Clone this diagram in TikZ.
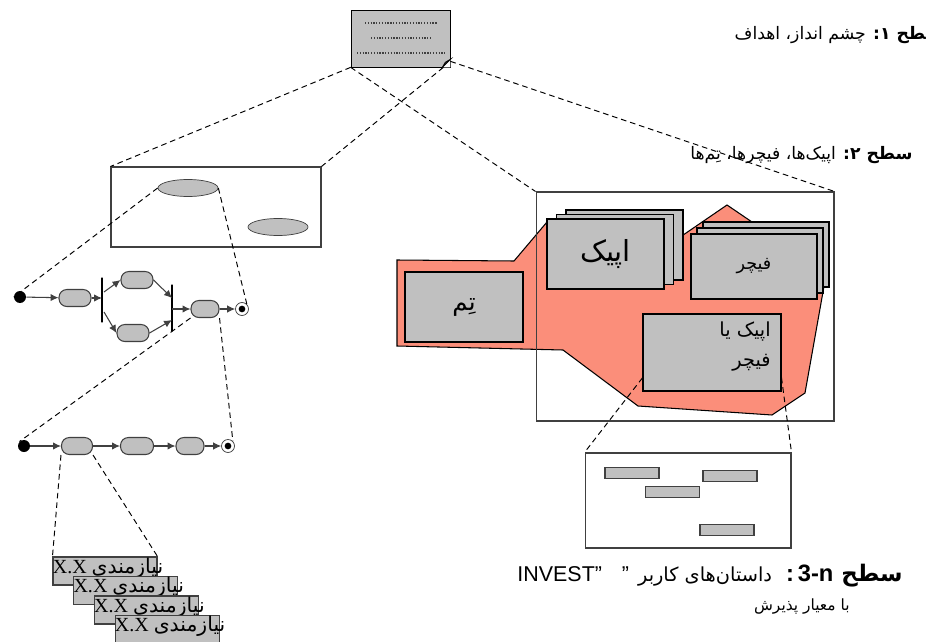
\documentclass[tikz,border=0pt]{standalone}
\usepackage{fontspec}
\setmainfont{Liberation Sans}
\newfontfamily\fa[Script=Arabic]{DejaVu Sans}
\newfontfamily\tim{Liberation Serif}
\TeXXeTstate=1
\usetikzlibrary{shapes.geometric, arrows.meta, positioning, calc}
\definecolor{tinta}{HTML}{000000}
\definecolor{borde}{HTML}{404040}
\definecolor{gris}{HTML}{C0C0C0}
\definecolor{salmon}{HTML}{FB8E7A}
\tikzset{
  guia/.style={dash pattern=on 3.2pt off 2.2pt, line width=0.55pt, color=tinta},
  hoja/.style={rectangle, draw=tinta, fill=gris, minimum width=1.98cm, minimum height=1.14cm},
  puntos/.style={dash pattern=on 0.7pt off 0.9pt, line width=0.7pt, color=borde},
  marco/.style={rectangle, draw=borde, line width=0.6pt, fill=white},
  ovalo/.style={ellipse, draw=borde, fill=gris, minimum width=1.2cm, minimum height=0.34cm, inner sep=0pt},
  accion/.style={rectangle, rounded corners=4.5pt, draw=borde, line width=0.6pt, fill=gris,
                 minimum width=0.64cm, minimum height=0.34cm, inner sep=0pt},
  inicio/.style={circle, fill=tinta, minimum size=0.24cm, inner sep=0pt},
  final/.style={circle, draw=borde, fill=white, minimum size=0.26cm, inner sep=0pt,
                path picture={\fill [tinta] (path picture bounding box.center) circle (1.9pt);}},
  barra/.style={rectangle, draw=tinta, line width=0.6pt, minimum width=0pt, inner sep=0pt},
  flecha/.style={->, >={Latex[length=4.5pt,width=4.2pt]}, line width=0.6pt, color=borde},
  tarjeta/.style={rectangle, draw=tinta, line width=0.6pt, fill=gris},
  zona/.style={draw=tinta, line width=0.6pt, fill=salmon},
  barrita/.style={rectangle, draw=borde, line width=0.7pt, fill=gris, minimum width=1.08cm, minimum height=0.2cm},
  req/.style={rectangle, draw=borde, line width=0.6pt, fill=gris, minimum width=2.08cm, minimum height=0.56cm},
  rotulo/.style={inner sep=0pt, font=\fa\fontsize{9.8pt}{12pt}\selectfont}
}

\begin{document}
\begin{tikzpicture}[x=0.02cm, y=-0.02cm]
  \useasboundingbox (0,0) rectangle (926,642);

  % hoja con la vision
  \node (hoja) [hoja] at (400.5,38.5) {};
  \draw [puntos] (365,23) -- (437,23);
  \draw [puntos] (371,38) -- (431,38);
  \draw [puntos] (357,53) -- (445,53);
  \fill [white] (hoja.south east) -- ++(0,-8) -- ++(-1,0) -- ++(-7,8) -- cycle;
  \draw [tinta, fill=gris!60, line width=0.5pt] ($(hoja.south east)+(-8,0)$) -- ($(hoja.south east)+(0,-8)$)
        -- ($(hoja.south east)+(-5,-5)$) -- cycle;

  % nivel 1: diagramas de actividad
  \node (marco1) [marco, minimum width=4.2cm, minimum height=1.6cm] at (216,207) {};
  \node (ov1) [ovalo] at (188,188) {};
  \node (ov2) [ovalo] at (278,227) {};

  \node (ini1) [inicio] at (20,297) {};
  \node (ac1) [accion] at (75,298) {};
  \node (bif1) [barra, minimum height=0.9cm] at (102,300) {};
  \node (ac2) [accion] at (137,280) {};
  \node (ac3) [accion] at (133,333) {};
  \node (jun1) [barra, minimum height=0.94cm] at (172,308) {};
  \node (ac4) [accion, minimum width=0.56cm] at (205,309) {};
  \node (fin1) [final] at (242,309) {};
  \draw [flecha] (ini1) -- (ac1);
  \draw [flecha] (ac1) -- (ac1 -| bif1);
  \draw [flecha] ($(bif1)+(2,-8)$) -- (ac2.west);
  \draw [flecha] ($(bif1)+(2,12)$) -- (ac3.west);
  \draw [flecha] (ac2.east) -- ($(jun1)+(0,-10)$);
  \draw [flecha] (ac3.east) -- ($(jun1)+(0,12)$);
  \draw [flecha] (ac4 -| jun1) -- (ac4);
  \draw [flecha] (ac4) -- (fin1);

  \node (ini2) [inicio] at (24,446) {};
  \node (bc1) [accion, minimum width=0.62cm] at (77,446) {};
  \node (bc2) [accion, minimum width=0.66cm] at (137,446) {};
  \node (bc3) [accion, minimum width=0.56cm] at (190,446) {};
  \node (fin2) [final] at (228,446) {};
  \draw [flecha] (ini2) -- (bc1);
  \draw [flecha] (bc1) -- (bc2);
  \draw [flecha] (bc2) -- (bc3);
  \draw [flecha] (bc3) -- (fin2);

  % requerimientos apilados
  \foreach \i in {0,...,3} {
    \node (req\i) [req] at (105+20.7*\i, 571+19.5*\i) {};
    \node (reqt\i) [anchor=base west, inner sep=0pt] at ($(req\i.west)+(0,2)$)
      {{\tim\fontsize{11.4pt}{12pt}\selectfont X.X} {\fa\fontsize{11.6pt}{12pt}\selectfont نیازمندی}};
  }

  % nivel 2: temas, epicas y features
  \path [zona] (397,260) -- (514,261) -- (547,222) -- (670,244) -- (727,205) -- (752,222) -- (826,275)
        -- (805,393) -- (772,415) -- (638,406) -- (563,350) -- (397,346) -- cycle;
  \node (nivel2) [marco, fill=none, minimum width=5.96cm, minimum height=4.58cm] at (685,306.5) {};
  \node (tema) [tarjeta, minimum width=2.36cm, minimum height=1.4cm,
                font=\fa\fontsize{14pt}{16pt}\selectfont] at (464,307) {ت^^^^0650م};
  \foreach \i in {2,1} {
    \node (epica\i) [tarjeta, minimum width=2.34cm, minimum height=1.4cm] at (605.5+9.5*\i, 254-4.5*\i) {};
  }
  \node (epica0) [tarjeta, minimum width=2.34cm, minimum height=1.4cm,
                  font=\fa\fontsize{16.5pt}{18pt}\selectfont] at (605.5,254) {اپیک};
  \foreach \i in {2,1} {
    \node (rasgo\i) [tarjeta, minimum width=2.52cm, minimum height=1.3cm] at (754+6*\i, 266.5-6*\i) {};
  }
  \node (rasgo0) [tarjeta, minimum width=2.52cm, minimum height=1.3cm,
                  font=\fa\fontsize{10pt}{12pt}\selectfont] at (754,266.5) {فیچر};
  \node (ef) [tarjeta, minimum width=2.76cm, minimum height=1.54cm] at (712,352.5) {};
  \node (ef1) [rotulo, anchor=east, font=\fa\fontsize{11pt}{12pt}\selectfont] at (771,332) {\beginR اپیک یا\endR};
  \node (ef2) [rotulo, anchor=east, font=\fa\fontsize{11pt}{12pt}\selectfont] at (771,363) {\beginR فیچر\endR};

  % nivel 3: historias
  \node (nivel3) [marco, minimum width=4.12cm, minimum height=1.9cm] at (688,500.5) {};
  \node (h1) [barrita] at (632,473) {};
  \node (h2) [barrita] at (730,476) {};
  \node (h3) [barrita] at (672.5,492) {};
  \node (h4) [barrita] at (727,530) {};

  % lineas guia entre niveles
  \draw [guia] (hoja.south west) -- (marco1.north west);
  \draw [guia] ($(hoja.south east)+(-7,0)$) -- (marco1.north east);
  \draw [guia] (hoja.south west) -- (nivel2.north west);
  \draw [guia] ($(hoja.south east)+(0,-6)$) -- (nivel2.north east);
  \draw [guia] (ov1.west) -- (ini1.west);
  \draw [guia] (ov1.east) -- (fin1.north east);
  \draw [guia] (ac4.south west) -- (ini2.north west);
  \draw [guia] (ac4.south east) -- (fin2.north east);
  \draw [guia] (bc1.south west) -- (req0.north west);
  \draw [guia] (bc1.south east) -- (req0.north east);
  \draw [guia] (ef.200) -- (nivel3.north west);
  \draw [guia] (ef.340) -- (nivel3.north east);

  % rotulos de cada nivel
  \node (sub1) [rotulo, anchor=east] at (943,35) {\beginR{\bfseries سطح ۱:} چشم انداز، اهداف\endR};
  \node (sub2) [rotulo, anchor=east] at (913,155)
    {\beginR{\bfseries سطح ۲:} اپیک^^^^200cها، فیچرها، ت^^^^0650م^^^^200cها\endR};
  \node (sub3) [inner sep=0pt, anchor=east, font=\fontsize{12.2pt}{14pt}\selectfont] at (903,576)
    {INVEST"\hspace{0.4cm}"\hspace{0.18cm}{\fa\fontsize{11pt}{14pt}\selectfont\beginR داستان^^^^200cهای کاربر\endR}\hspace{0.28cm}{\fontsize{13.5pt}{14pt}\selectfont\bfseries :\hspace{0.08cm}3-n}\hspace{0.16cm}{\fa\bfseries\fontsize{13pt}{14pt}\selectfont\beginR سطح\endR}};
  \node (sub3b) [rotulo, anchor=east, font=\fa\fontsize{8.8pt}{12pt}\selectfont] at (850,607) {\beginR با معیار پذیرش\endR};
\end{tikzpicture}
\end{document}
